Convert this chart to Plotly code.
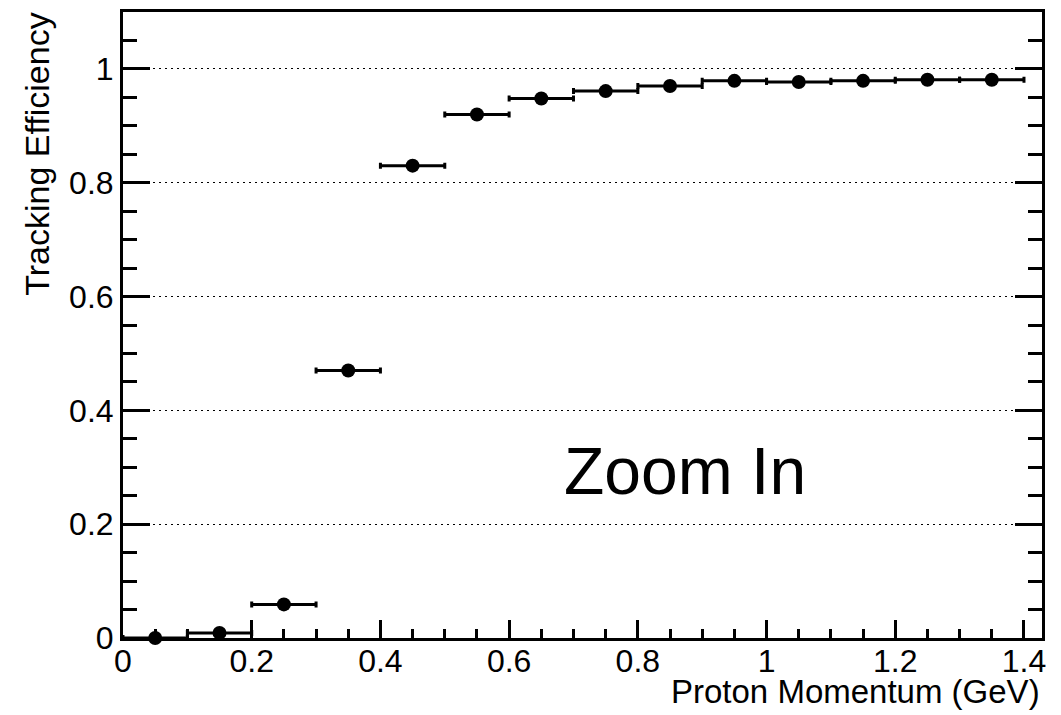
import plotly.graph_objects as go

# Data
momentum = [0.05, 0.15, 0.25, 0.35, 0.45, 0.55, 0.65, 0.75, 0.85, 0.95, 1.05, 1.15, 1.25, 1.35]
efficiency = [0.0, 0.009, 0.059, 0.470, 0.830, 0.920, 0.948, 0.961, 0.970, 0.979, 0.977, 0.979, 0.981, 0.981]
bin_half_width = [0.05] * len(momentum)

x_title = "Proton Momentum (GeV)"
y_title = "Tracking Efficiency"
note = "Zoom In"

FONT = "Liberation Sans, Arial, Helvetica, sans-serif"

fig = go.Figure()
fig.add_trace(go.Scatter(
    x=momentum, y=efficiency, mode="markers",
    marker=dict(symbol="circle", size=14, color="black"),
    error_x=dict(type="data", array=bin_half_width, symmetric=True,
                 color="black", thickness=3, width=3),
    cliponaxis=False, showlegend=False,
))

fig.add_annotation(x=0.873, y=0.293, xref="x", yref="y", text=note,
                   showarrow=False, font=dict(family=FONT, size=66, color="black"),
                   xanchor="center", yanchor="middle")
fig.add_annotation(x=1.0, y=-0.086, xref="paper", yref="paper", text=x_title,
                   showarrow=False, font=dict(family=FONT, size=33, color="black"),
                   xanchor="right", yanchor="middle")
fig.add_annotation(x=-0.093, y=1.002, xref="paper", yref="paper", text=y_title,
                   textangle=-90, showarrow=False,
                   font=dict(family=FONT, size=34, color="black"),
                   xanchor="center", yanchor="top")

fig.update_xaxes(
    range=[0, 1.428], showline=True, linecolor="black", linewidth=3, mirror=True,
    ticks="inside", ticklen=18, tickwidth=3, tickcolor="black",
    tick0=0, dtick=0.2, showgrid=False, zeroline=False, ticklabelstandoff=-7,
    tickfont=dict(family=FONT, size=32, color="black"),
    minor=dict(ticks="inside", ticklen=9, tickwidth=3, tickcolor="black", dtick=0.05, showgrid=False),
)
fig.update_yaxes(
    range=[0, 1.1], showline=True, linecolor="black", linewidth=3, mirror="ticks",
    ticks="inside", ticklen=27, tickwidth=3, tickcolor="black",
    tick0=0, dtick=0.2, showgrid=True, gridcolor="black", gridwidth=1, griddash="2px,4px",
    zeroline=False,
    tickfont=dict(family=FONT, size=32, color="black"),
    minor=dict(ticks="inside", ticklen=14, tickwidth=3, tickcolor="black", dtick=0.05, showgrid=False),
)

fig.update_layout(
    width=1061, height=715, template="none",
    paper_bgcolor="white", plot_bgcolor="white",
    margin=dict(l=123, r=19, t=12, b=77),
    font=dict(family=FONT, color="black"),
)

fig.write_html("out.html", config={"displayModeBar": False},
               post_script="document.body.style.margin='0';document.body.style.overflow='hidden';")
